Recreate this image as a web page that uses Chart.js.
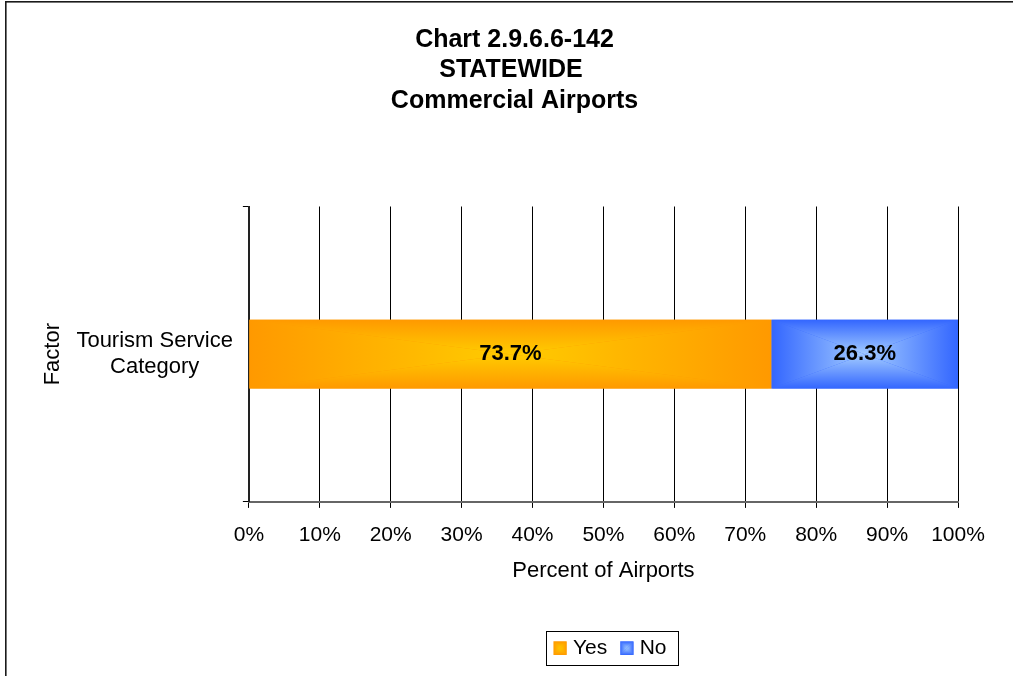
<!DOCTYPE html>
<html>
<head>
<meta charset="utf-8">
<script src="https://cdn.jsdelivr.net/npm/chart.js@4/dist/chart.umd.min.js"></script>
<style>
  html, body { margin: 0; padding: 0; background: #fff; }
  canvas { display: block; }
</style>
</head>
<body>
<canvas id="chart" width="1013" height="676"></canvas>
<script>
// values
var categories = [['Tourism Service', 'Category']];
var seriesNames = ['Yes', 'No'];
var yesValues = [73.7];
var noValues = [26.3];
var tickLabels = ['0%', '10%', '20%', '30%', '40%', '50%', '60%', '70%', '80%', '90%', '100%'];
var titleLines = ['Chart 2.9.6.6-142', 'STATEWIDE ', 'Commercial Airports'];

var FONT = '"Liberation Sans", Arial, sans-serif';
var colors = {
  Yes: { edge: '#FF9900', center: '#FFCC00' },
  No:  { edge: '#3366FF', center: '#A3CCFF' }
};

// rectangle ("path") gradient: four triangles, edge colour to centre colour
function rectGradient(ctx, x, y, w, h, edge, center) {
  var cx = x + w / 2, cy = y + h / 2;
  var sides = [
    [x, y, x + w, y, x, y, x, cy],
    [x + w, y + h, x, y + h, x, y + h, x, cy],
    [x, y + h, x, y, x, y, cx, y],
    [x + w, y, x + w, y + h, x + w, y, cx, y]
  ];
  sides.forEach(function (s) {
    var g = ctx.createLinearGradient(s[4], s[5], s[6], s[7]);
    g.addColorStop(0, edge);
    g.addColorStop(1, center);
    ctx.fillStyle = g;
    ctx.beginPath();
    ctx.moveTo(s[0], s[1]);
    ctx.lineTo(s[2], s[3]);
    ctx.lineTo(cx, cy);
    ctx.closePath();
    ctx.fill();
  });
}

function makeSwatch(c) {
  var cv = document.createElement('canvas');
  cv.width = 24;
  cv.height = 14;
  var g = cv.getContext('2d');
  g.fillStyle = c.edge;
  g.fillRect(10, 0.5, 13.4, 13.4);
  rectGradient(g, 10, 0.5, 13.4, 13.4, c.edge, c.center);
  return cv;
}
var swatches = { Yes: makeSwatch(colors.Yes), No: makeSwatch(colors.No) };

var framePlugin = {
  id: 'frame',
  beforeDraw: function (chart) {
    var ctx = chart.ctx;
    ctx.save();
    ctx.fillStyle = '#fff';
    ctx.fillRect(0, 0, chart.width, chart.height);
    ctx.fillStyle = '#1a1a1a';
    ctx.fillRect(5, 1, 1.6, chart.height);
    ctx.fillRect(5, 1, chart.width, 1.6);
    ctx.restore();
  },
  afterLayout: function (chart) {
    // legend sits under the plot, title a little right of the canvas middle
    var lg = chart.legend;
    var area = chart.chartArea;
    var shift = (area.left + area.right) / 2 + 4 - (lg.left + lg.right) / 2;
    lg.left += shift;
    lg.right += shift;
    var tb = chart.titleBlock;
    var tshift = 514.5 - (tb.left + tb.right) / 2;
    tb.left += tshift;
    tb.right += tshift;
  },
  afterDatasetsDraw: function (chart) {
    var ctx = chart.ctx;
    ctx.save();
    chart.data.datasets.forEach(function (ds, i) {
      var meta = chart.getDatasetMeta(i);
      var c = colors[ds.label];
      meta.data.forEach(function (el, j) {
        var p = el.getProps(['x', 'y', 'base', 'height'], true);
        var left = Math.min(p.x, p.base), w = Math.abs(p.x - p.base);
        var top = p.y - p.height / 2;
        rectGradient(ctx, left, top, w, p.height, c.edge, c.center);
        ctx.fillStyle = '#000';
        ctx.font = 'bold 22px ' + FONT;
        ctx.textAlign = 'center';
        ctx.textBaseline = 'middle';
        ctx.fillText(ds.data[j].toFixed(1) + '%', left + w / 2, p.y);
      });
    });
    ctx.restore();
  },
  afterDraw: function (chart) {
    var hb = chart.legend.legendHitBoxes;
    if (!hb || !hb.length) return;
    var ctx = chart.ctx;
    var first = hb[0], last = hb[hb.length - 1];
    var cy = first.top + 10.5;
    var l = Math.round(first.left - 2.6) + 0.5;
    var r = Math.round(last.left + last.width + 11.3) + 0.5;
    ctx.save();
    ctx.strokeStyle = '#000';
    ctx.lineWidth = 1;
    ctx.strokeRect(l, Math.round(cy - 17) + 0.5, r - l, 34);
    ctx.restore();
  }
};

var ctx = document.getElementById('chart').getContext('2d');
new Chart(ctx, {
  type: 'bar',
  data: {
    labels: categories,
    datasets: [
      { label: seriesNames[0], data: yesValues, backgroundColor: colors.Yes.edge },
      { label: seriesNames[1], data: noValues, backgroundColor: colors.No.edge }
    ]
  },
  options: {
    indexAxis: 'y',
    responsive: false,
    animation: false,
    barPercentage: 0.233,
    categoryPercentage: 1,
    layout: { padding: { left: 40, right: 55, top: 0, bottom: 7.5 } },
    scales: {
      x: {
        type: 'linear',
        stacked: true,
        min: 0,
        max: 100,
        ticks: {
          stepSize: 10,
          color: '#000',
          padding: 14.5,
          maxRotation: 0,
          font: { family: FONT, size: 21 },
          callback: function (v, i) { return tickLabels[i]; }
        },
        grid: { color: '#000', lineWidth: 1, tickLength: 6 },
        border: { color: '#666', width: 2 },
        title: {
          display: true,
          text: 'Percent of Airports',
          color: '#000',
          font: { family: FONT, size: 22 },
          padding: { top: -4, bottom: 45 }
        }
      },
      y: {
        stacked: true,
        ticks: {
          color: '#000',
          padding: 10,
          crossAlign: 'center',
          font: { family: FONT, size: 22 }
        },
        grid: { drawOnChartArea: false, color: '#000', tickLength: 6 },
        border: { color: '#222', width: 2 },
        title: {
          display: true,
          text: 'Factor',
          color: '#000',
          font: { family: FONT, size: 22 },
          padding: { top: 0, bottom: 0 }
        }
      }
    },
    plugins: {
      title: {
        display: true,
        text: titleLines,
        color: '#000',
        font: { family: FONT, size: 25, weight: 'bold', lineHeight: 1.22 },
        padding: { top: 24.5, bottom: 90.5 }
      },
      legend: {
        position: 'bottom',
        labels: {
          usePointStyle: true,
          boxWidth: 14,
          padding: 8,
          color: '#000',
          font: { family: FONT, size: 21 },
          generateLabels: function (chart) {
            var items = Chart.defaults.plugins.legend.labels.generateLabels(chart);
            items.forEach(function (it) { it.pointStyle = swatches[it.text]; });
            return items;
          }
        }
      },
      tooltip: { enabled: false }
    }
  },
  plugins: [framePlugin]
});
</script>
</body>
</html>
